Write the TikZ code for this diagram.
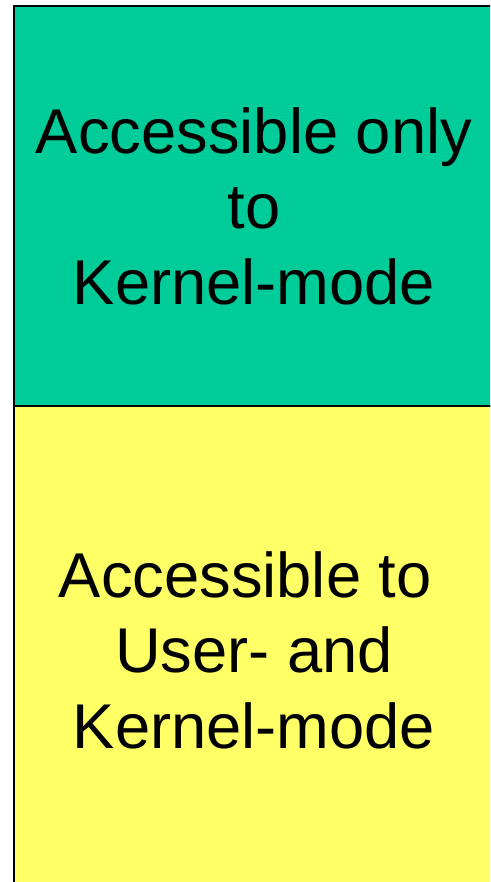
\documentclass[tikz,border=0pt]{standalone}
\usepackage{fontspec}
\setmainfont{Liberation Sans}
\usetikzlibrary{positioning}
\definecolor{kernelgreen}{RGB}{0,204,153}
\definecolor{useryellow}{RGB}{255,255,102}

\begin{document}
\begin{tikzpicture}[every node/.style={rectangle,draw,line width=1.1pt,outer sep=0pt,align=center,font=\fontsize{36}{43}\selectfont}, node distance=0cm]

\useasboundingbox (0,0) rectangle (9.8,17.64);
\clip (0,0) rectangle (9.8,17.64);

% Zone di memoria
\node[fill=kernelgreen, minimum width=9.6cm, minimum height=8cm] (kernel) at (5.08,13.52) {Accessible only\\to\\Kernel-mode};
\node[fill=useryellow, minimum width=9.6cm, minimum height=9.76cm, below=of kernel] (user) {Accessible to~\mbox{}\\User- and\\Kernel-mode};

\end{tikzpicture}
\end{document}
